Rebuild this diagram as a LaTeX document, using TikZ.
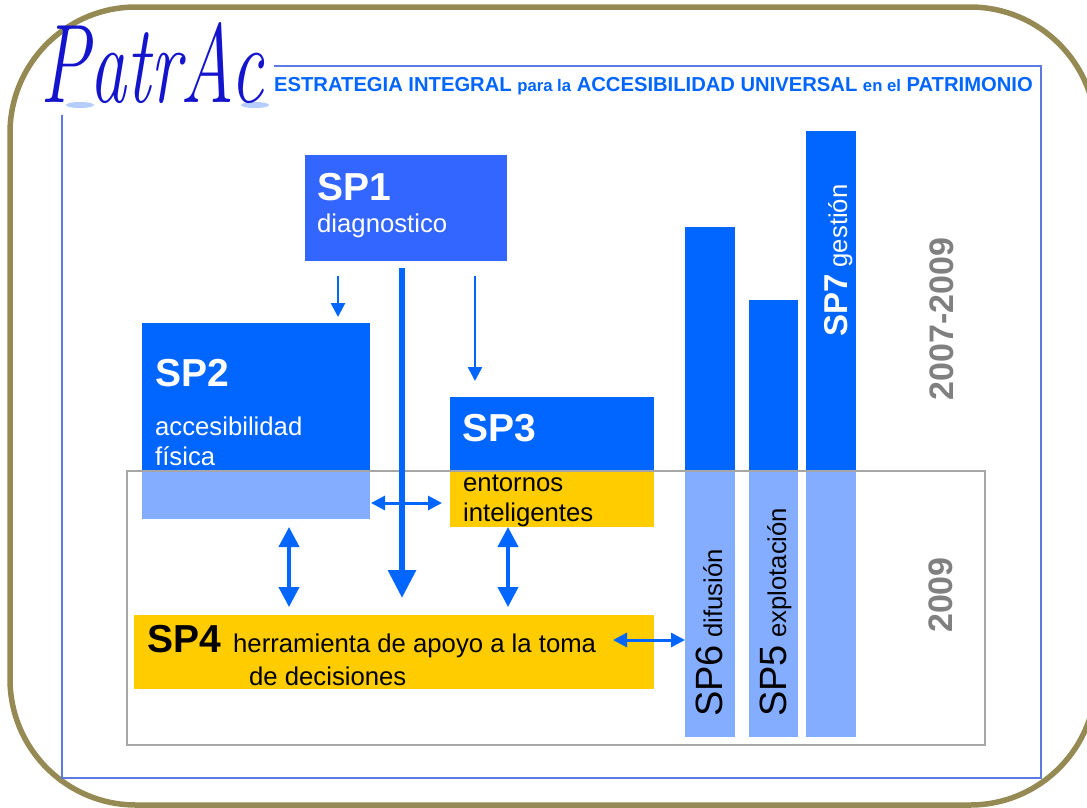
\documentclass[tikz,border=0pt]{standalone}
\usepackage{fontspec}
\setsansfont{Liberation Sans}
\usepackage{tikz}
\usetikzlibrary{arrows.meta}

\definecolor{spblue}{HTML}{0066FF}
\definecolor{spdark}{HTML}{3366FF}
\definecolor{splight}{HTML}{85ADFF}
\definecolor{spyellow}{HTML}{FFCC00}
\definecolor{frameolive}{HTML}{968A54}
\definecolor{framelines}{HTML}{5B7BE0}
\definecolor{logoblue}{HTML}{1414CC}

\tikzset{
    spbox/.style={anchor=north west, inner sep=0pt, outer sep=0pt},
    sptext/.style={anchor=base west, inner sep=0pt, font=\sffamily\fontsize{25.7}{25.7}\selectfont},
    sptitle/.style={anchor=base west, inner sep=0pt, font=\sffamily\bfseries\fontsize{39}{39}\selectfont},
    yeartext/.style={anchor=base, inner sep=0pt, rotate=90, text=black!50, font=\sffamily\bfseries\fontsize{34}{34}\selectfont},
    thinarrow/.style={-{Triangle[width=14pt,length=14pt]}, spblue, line width=2.5pt},
    bigarrow/.style={-{Triangle[width=27pt,length=28pt]}, spblue, line width=6pt},
    medarrow/.style={{Triangle[width=20pt,length=20pt]}-{Triangle[width=20pt,length=20pt]}, spblue, line width=4pt},
    smallarrow/.style={{Triangle[width=14pt,length=14pt]}-{Triangle[width=14pt,length=14pt]}, spblue, line width=3pt},
}

\begin{document}
\begin{tikzpicture}[x=1pt, y=-1pt]
    \useasboundingbox (0,0) rectangle (1087,807);
    \fill[white] (0,0) rectangle (1087,807);

    \draw[frameolive, line width=5.5pt, rounded corners=126pt] (10,7) rectangle (1096,805);
    \draw[framelines, line width=1.3pt] (62,115) -- (62,778) -- (1041,778) -- (1041,66) -- (274,66);

    % logo and title
    \fill[splight!60] (80,105) ellipse (14 and 3);
    \fill[splight!60] (255,105) ellipse (14 and 3);
    \node[anchor=base west, inner sep=0pt, text=logoblue, font=\rmfamily\itshape\fontsize{112}{112}\selectfont, xscale=.66] (logo) at (40,102) {PatrAc};
    \node[anchor=base west, inner sep=0pt, text=spblue, font=\sffamily\bfseries\fontsize{20.2}{20.2}\selectfont] (title) at (274,91)
        {ESTRATEGIA INTEGRAL {\fontsize{16.7}{16.7}\selectfont para la} ACCESIBILIDAD UNIVERSAL {\fontsize{16.7}{16.7}\selectfont en el} PATRIMONIO};

    % boxes
    \node[spbox, fill=spdark, minimum width=202pt, minimum height=106pt] (sp1) at (305,155) {};
    \node[spbox, fill=spblue, minimum width=228pt, minimum height=148pt] (sp2) at (142,323) {};
    \node[spbox, fill=splight, minimum width=228pt, minimum height=48pt] (sp2low) at (142,471) {};
    \node[spbox, fill=spblue, minimum width=204pt, minimum height=74pt] (sp3) at (450,397) {};
    \node[spbox, fill=spyellow, minimum width=204pt, minimum height=56pt] (sp3low) at (450,471) {};
    \node[spbox, fill=spyellow, minimum width=520pt, minimum height=74pt] (sp4) at (134,615) {};

    \node[spbox, fill=spblue, minimum width=50pt, minimum height=244pt] (sp6) at (685,227) {};
    \node[spbox, fill=splight, minimum width=50pt, minimum height=266pt] (sp6low) at (685,471) {};
    \node[spbox, fill=spblue, minimum width=49pt, minimum height=171pt] (sp5) at (749,300) {};
    \node[spbox, fill=splight, minimum width=49pt, minimum height=266pt] (sp5low) at (749,471) {};
    \node[spbox, fill=spblue, minimum width=50pt, minimum height=340pt] (sp7) at (806,131) {};
    \node[spbox, fill=splight, minimum width=50pt, minimum height=266pt] (sp7low) at (806,471) {};

    \node[spbox, draw=black!35, line width=1.3pt, minimum width=858pt, minimum height=274pt] (period) at (127,471) {};

    % box texts
    \node[sptitle, text=white] (sp1a) at (317,200) {SP1};
    \node[sptext, text=white] (sp1b) at (317,232) {diagnostico};
    \node[sptitle, text=white] (sp2a) at (155,386) {SP2};
    \node[sptext, text=white] (sp2b) at (155,435) {accesibilidad};
    \node[sptext, text=white] (sp2c) at (155,465) {física};
    \node[sptitle, text=white] (sp3a) at (462,441) {SP3};
    \node[sptext] (sp3b) at (463,491) {entornos};
    \node[sptext] (sp3c) at (463,521) {inteligentes};
    \node[sptitle] (sp4a) at (147,652) {SP4};
    \node[sptext] (sp4b) at (233,652) {herramienta de apoyo a la toma};
    \node[sptext] (sp4c) at (249,685) {de decisiones};

    \node[sptext, rotate=90] (sp6a) at (722,717) {{\fontsize{38}{38}\selectfont SP6} difusión};
    \node[sptext, rotate=90] (sp5a) at (786,717) {{\fontsize{38}{38}\selectfont SP5} explotación};
    \node[sptext, rotate=90, text=white] (sp7a) at (847,337) {{\bfseries\fontsize{33}{33}\selectfont SP7} gestión};

    \node[yeartext] (years) at (953,319) {2007-2009};
    \node[yeartext] (lastyear) at (952,595) {2009};

    % arrows
    \coordinate (a1) at (338,276);
    \coordinate (a2) at (338,317);
    \coordinate (b1) at (475,276);
    \coordinate (b2) at (475,381);
    \coordinate (c1) at (402,268);
    \coordinate (c2) at (402,598);
    \coordinate (d1) at (371,503);
    \coordinate (d2) at (442,503);
    \coordinate (e1) at (289,527);
    \coordinate (e2) at (289,607);
    \coordinate (f1) at (508,527);
    \coordinate (f2) at (508,607);
    \coordinate (g1) at (613,640);
    \coordinate (g2) at (685,640);

    \draw[thinarrow] (a1) -- (a2);
    \draw[thinarrow] (b1) -- (b2);
    \draw[bigarrow] (c1) -- (c2);
    \draw[smallarrow] (d1) -- (d2);
    \draw[medarrow] (e1) -- (e2);
    \draw[medarrow] (f1) -- (f2);
    \draw[smallarrow] (g1) -- (g2);
\end{tikzpicture}
\end{document}
